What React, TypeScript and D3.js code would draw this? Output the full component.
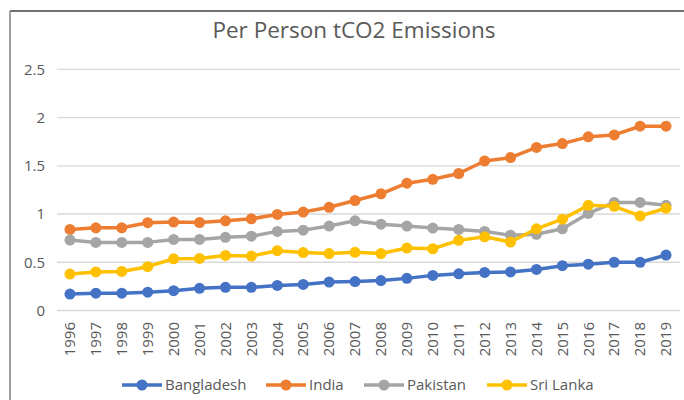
import React from "react";
import * as d3 from "d3";

const years = ["1996","1997","1998","1999","2000","2001","2002","2003","2004","2005","2006","2007","2008","2009","2010","2011","2012","2013","2014","2015","2016","2017","2018","2019"];
const bangladesh = [0.17,0.18,0.18,0.19,0.205,0.23,0.24,0.24,0.26,0.27,0.295,0.30,0.31,0.333,0.364,0.38,0.395,0.40,0.426,0.464,0.48,0.50,0.50,0.575];
const india = [0.84,0.857,0.857,0.91,0.916,0.912,0.93,0.95,0.996,1.02,1.07,1.14,1.21,1.32,1.36,1.42,1.55,1.585,1.69,1.73,1.80,1.82,1.91,1.91];
const pakistan = [0.73,0.706,0.706,0.706,0.737,0.737,0.758,0.77,0.82,0.833,0.875,0.93,0.895,0.875,0.854,0.84,0.82,0.78,0.79,0.847,1.006,1.12,1.12,1.09];
const sriLanka = [0.378,0.40,0.405,0.454,0.536,0.54,0.571,0.564,0.62,0.60,0.59,0.603,0.59,0.647,0.64,0.727,0.764,0.71,0.847,0.947,1.09,1.08,0.98,1.06];
const yTicks = [0, 0.5, 1, 1.5, 2, 2.5];
const seriesNames = ["Bangladesh", "India", "Pakistan", "Sri Lanka"];
const seriesColors = ["#4472C4", "#ED7D31", "#A5A5A5", "#FFC000"];

const W = 684, H = 400;
const FONT = "'Open Sans', 'Liberation Sans', sans-serif";

export default function App() {
  const x = d3.scaleBand<string>().domain(years).range([57, 679]);
  const y = d3.scaleLinear().domain([0, 2.5]).range([310.5, 69.3]);
  const data = [bangladesh, india, pakistan, sriLanka];
  const line = d3.line<number>()
    .x((_, i) => (x(years[i]) as number) + x.bandwidth() / 2)
    .y((d) => y(d));
  const legendX = [122, 266, 364, 487];
  const legendY = 385;

  return (
    <svg width={W} height={H} style={{ position: "absolute", left: 0, top: 0 }}>
      <rect x={0} y={0} width={W} height={H} fill="#fff" />
      <line x1={10} y1={11} x2={W} y2={11} stroke="#404040" strokeWidth={1.5} />
      <line x1={10} y1={11} x2={10} y2={H} stroke="#808080" strokeWidth={1.5} />
      <text x={354} y={38} textAnchor="middle" fontFamily={FONT} fontSize={22.5} fill="#595959">
        Per Person tCO2 Emissions
      </text>
      {yTicks.map((t) => (
        <g key={t}>
          <line x1={57} x2={680} y1={y(t)} y2={y(t)} stroke="#d9d9d9" strokeWidth={1.3} />
          <text x={45} y={y(t)} dy="0.35em" textAnchor="end" fontFamily={FONT} fontSize={15} fill="#595959">
            {t}
          </text>
        </g>
      ))}
      {years.map((yr) => {
        const cx = (x(yr) as number) + x.bandwidth() / 2;
        return (
          <text key={yr} transform={`translate(${cx},${322}) rotate(-90)`} textAnchor="end" dy="0.35em"
            fontFamily={FONT} fontSize={15} fill="#595959">
            {yr}
          </text>
        );
      })}
      {data.map((s, si) => (
        <g key={si}>
          <path d={line(s) || ""} fill="none" stroke={seriesColors[si]} strokeWidth={3.5} strokeLinejoin="round" />
          {s.map((v, i) => (
            <circle key={i} cx={(x(years[i]) as number) + x.bandwidth() / 2} cy={y(v)} r={5.5} fill={seriesColors[si]} />
          ))}
        </g>
      ))}
      {seriesNames.map((n, i) => (
        <g key={n}>
          <line x1={legendX[i]} x2={legendX[i] + 40} y1={legendY} y2={legendY} stroke={seriesColors[i]} strokeWidth={3.5} />
          <circle cx={legendX[i] + 20} cy={legendY} r={5.5} fill={seriesColors[i]} />
          <text x={legendX[i] + 43} y={legendY} dy="0.35em" fontFamily={FONT} fontSize={15} fill="#595959">
            {n}
          </text>
        </g>
      ))}
    </svg>
  );
}
